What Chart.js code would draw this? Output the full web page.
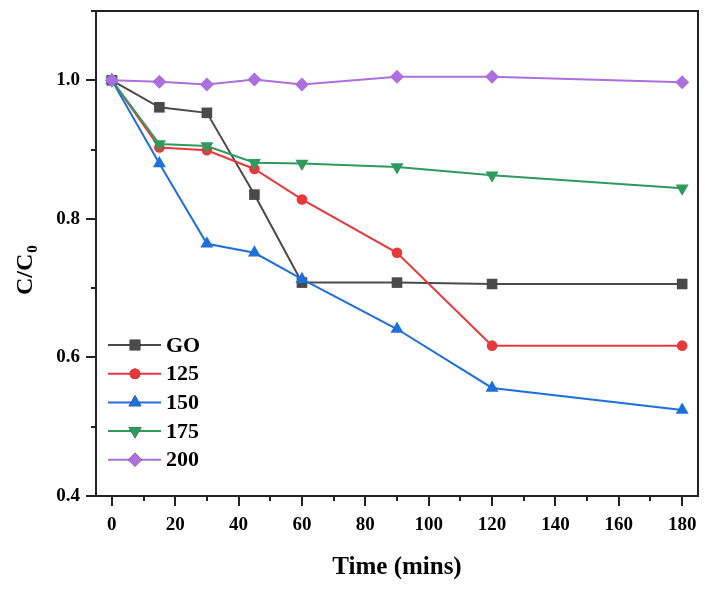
<!DOCTYPE html>
<html>
<head>
<meta charset="utf-8">
<script src="https://cdn.jsdelivr.net/npm/chart.js@4.4.1/dist/chart.umd.min.js"></script>
<style>
  html, body { margin: 0; padding: 0; background: #fff; }
  #wrap { width: 715px; height: 590px; }
</style>
</head>
<body>
<div id="wrap"><canvas id="myChart" width="715" height="590"></canvas></div>
<script>
const times = [0, 15, 30, 45, 60, 90, 120, 180];
const seriesNames = ['GO', '125', '150', '175', '200'];
const goVals   = [1.0, 0.961, 0.953, 0.835, 0.708, 0.708, 0.706, 0.706];
const v125     = [1.0, 0.903, 0.899, 0.872, 0.828, 0.751, 0.617, 0.617];
const v150     = [1.0, 0.880, 0.764, 0.751, 0.713, 0.641, 0.556, 0.524];
const v175     = [1.0, 0.908, 0.905, 0.881, 0.880, 0.875, 0.863, 0.844];
const v200     = [1.0, 0.998, 0.994, 1.001, 0.994, 1.005, 1.005, 0.997];
const xTicks = [0, 20, 40, 60, 80, 100, 120, 140, 160, 180];
const yTicks = [0.4, 0.6, 0.8, 1.0];

const serif = '"Liberation Serif", "Times New Roman", serif';
const ctx = document.getElementById('myChart');

function mk(label, vals, color, style, rot, r, order) {
  return {
    label: label,
    data: vals.map((v, i) => ({ x: times[i], y: v })),
    borderColor: color,
    backgroundColor: color,
    borderWidth: 2,
    pointStyle: style,
    pointRotation: rot,
    pointRadius: r,
    pointBorderWidth: 0,
    pointHoverRadius: r,
    tension: 0,
    order: order
  };
}

// later series drawn on top, like the original plot
const datasets = [
  mk(seriesNames[0], goVals, '#4a4a4a', 'rect', 0, 7.5, 4),
  mk(seriesNames[1], v125, '#e8383b', 'circle', 0, 5.3, 3),
  mk(seriesNames[2], v150, '#1e6fd9', 'triangle', 0, 7.5, 2),
  mk(seriesNames[3], v175, '#2e9a5c', 'triangle', 180, 7.5, 1),
  mk(seriesNames[4], v200, '#ad6fe0', 'rectRot', 0, 7, 0)
];

// frame, minor/major ticks, y title with subscript and in-plot legend
const framePlugin = {
  id: 'frame',
  afterDraw(chart) {
    const c = chart.ctx, a = chart.chartArea;
    const xs = chart.scales.x, ys = chart.scales.y;
    c.save();
    c.strokeStyle = '#222';
    c.lineWidth = 2;
    c.strokeRect(a.left, a.top, a.right - a.left, a.bottom - a.top);
    c.beginPath();
    for (let v = 0; v <= 180; v += 10) {
      const px = Math.round(xs.getPixelForValue(v));
      c.moveTo(px, a.bottom);
      c.lineTo(px, a.bottom + (v % 20 === 0 ? 10 : 5));
    }
    for (let k = 4; k <= 11; k++) {
      const py = Math.round(ys.getPixelForValue(k / 10));
      c.moveTo(a.left, py);
      c.lineTo(a.left - (k % 2 === 0 ? 10 : 5), py);
    }
    c.stroke();

    // y axis title C/C0
    c.save();
    c.translate(32, 295);
    c.rotate(-Math.PI / 2);
    c.fillStyle = '#000';
    c.textBaseline = 'alphabetic';
    c.font = 'bold 24px ' + serif;
    c.fillText('C/C', 0, 0);
    const w = c.measureText('C/C').width;
    c.font = 'bold 15px ' + serif;
    c.fillText('0', w + 1, 5);
    c.restore();

    // legend
    c.font = 'bold 22px ' + serif;
    c.textBaseline = 'middle';
    chart.data.datasets.forEach((ds, i) => {
      const y = 345 + i * 28.7;
      c.strokeStyle = ds.borderColor;
      c.lineWidth = 2;
      c.beginPath();
      c.moveTo(108, y);
      c.lineTo(161, y);
      c.stroke();
      Chart.helpers.drawPoint(c, {
        pointStyle: ds.pointStyle,
        rotation: ds.pointRotation,
        radius: ds.pointRadius,
        borderWidth: 0
      }, 135, y);
      c.fillStyle = ds.backgroundColor;
      c.fill();
      c.fillStyle = '#000';
      c.fillText(ds.label, 166, y + 1);
    });
    c.restore();
  }
};

new Chart(ctx, {
  type: 'line',
  data: { datasets: datasets },
  options: {
    responsive: false,
    animation: false,
    layout: { padding: { left: 0, right: 17, top: 11, bottom: 0 } },
    plugins: {
      legend: { display: false },
      tooltip: { enabled: false }
    },
    scales: {
      x: {
        type: 'linear',
        min: -5,
        max: 185,
        afterBuildTicks: s => { s.ticks = xTicks.map(v => ({ value: v })); },
        afterFit: s => { s.height = 94; },
        grid: { display: false, drawTicks: false },
        border: { display: false },
        ticks: {
          padding: 18,
          color: '#000',
          font: { family: serif, size: 19, weight: 'bold' },
          maxRotation: 0
        },
        title: {
          display: true,
          text: 'Time (mins)',
          color: '#000',
          font: { family: serif, size: 25, weight: 'bold' },
          padding: { top: 0, bottom: 7 }
        }
      },
      y: {
        min: 0.4,
        max: 1.1,
        afterBuildTicks: s => { s.ticks = yTicks.map(v => ({ value: v })); },
        afterFit: s => { s.width = 96; s.paddingTop = 0; s.paddingBottom = 0; },
        grid: { display: false, drawTicks: false },
        border: { display: false },
        ticks: {
          padding: 16,
          color: '#000',
          font: { family: serif, size: 19, weight: 'bold' },
          callback: v => v.toFixed(1)
        },
        title: { display: false, text: 'C/C0' }
      }
    }
  },
  plugins: [framePlugin]
});
</script>
</body>
</html>
